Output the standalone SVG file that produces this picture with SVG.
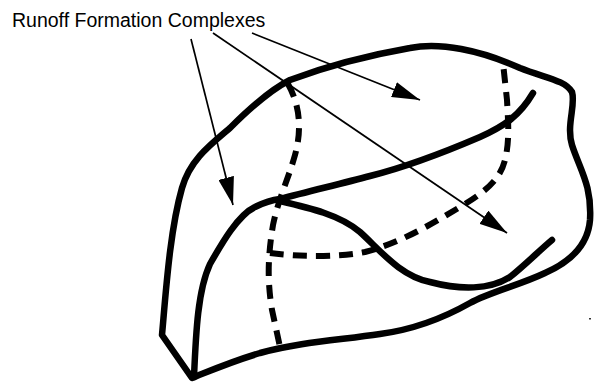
<svg xmlns="http://www.w3.org/2000/svg" width="595" height="383" viewBox="0 0 595 383">
  <style>
    .edge { fill: none; stroke: #000; stroke-width: 6.5; stroke-linecap: round; stroke-linejoin: round; }
    .hidden { fill: none; stroke: #000; stroke-width: 6; stroke-dasharray: 14 9; }
    .pointer { fill: none; stroke: #000; stroke-width: 1.7; marker-end: url(#head); }
    .label { font-family: "Liberation Sans", Arial, sans-serif; font-size: 19.5px; fill: #000; }
  </style>
  <defs>
    <marker id="head" markerUnits="userSpaceOnUse" markerWidth="28" markerHeight="16" refX="28" refY="8" orient="auto">
      <path d="M0,0 L28,8 L0,16 Z" fill="#000"/>
    </marker>
  </defs>
  <rect width="595" height="383" fill="#fff"/>

  <text class="label" x="12" y="27">Runoff Formation Complexes</text>

  <g id="block">
    <!-- outer outline -->
    <path class="edge" d="M192,378 L162,335 C166,290 170,230 182,188 C190,160 210,145 230,128 C250,108 270,90 290,80 C330,65 370,55 410,48 C440,42 480,50 520,68 C545,78 565,80 572,92 C576,105 566,125 572,145 C580,170 592,185 590,220 C588,245 570,262 545,273 C520,285 490,292 470,303 C440,320 410,330 380,334 C340,340 300,342 260,353 C230,362 212,370 192,378 Z"/>
    <!-- front face edge and ridge -->
    <path class="edge" d="M194,377 C196,330 198,290 210,264 C222,243 238,215 255,207 C263,203 272,200 280,199 C310,191 340,184 370,176 C410,166 445,152 480,137 C505,126 520,115 533,93"/>
    <!-- lower edge from ridge -->
    <path class="edge" d="M280,201 C310,208 340,215 360,232 C380,250 400,276 430,282 C460,290 490,290 510,277 C525,265 540,250 552,240"/>
    <!-- hidden edges -->
    <path class="hidden" d="M288,84 C300,105 302,130 295,155 C288,180 278,200 273,225 C268,255 267,280 272,310 L280,347"/>
    <path class="hidden" d="M270,253 C300,257 340,257 365,252 C400,243 430,225 460,207 C485,192 500,180 505,160 C510,140 508,120 507,100 L503,63"/>
  </g>

  <g id="connectors">
    <line class="pointer" x1="191" y1="39" x2="233" y2="205"/>
    <line class="pointer" x1="213" y1="33" x2="507" y2="233"/>
    <line class="pointer" x1="252" y1="33" x2="420" y2="100"/>
  </g>

  <rect x="589" y="318" width="2" height="1.5" fill="#333"/>
</svg>
